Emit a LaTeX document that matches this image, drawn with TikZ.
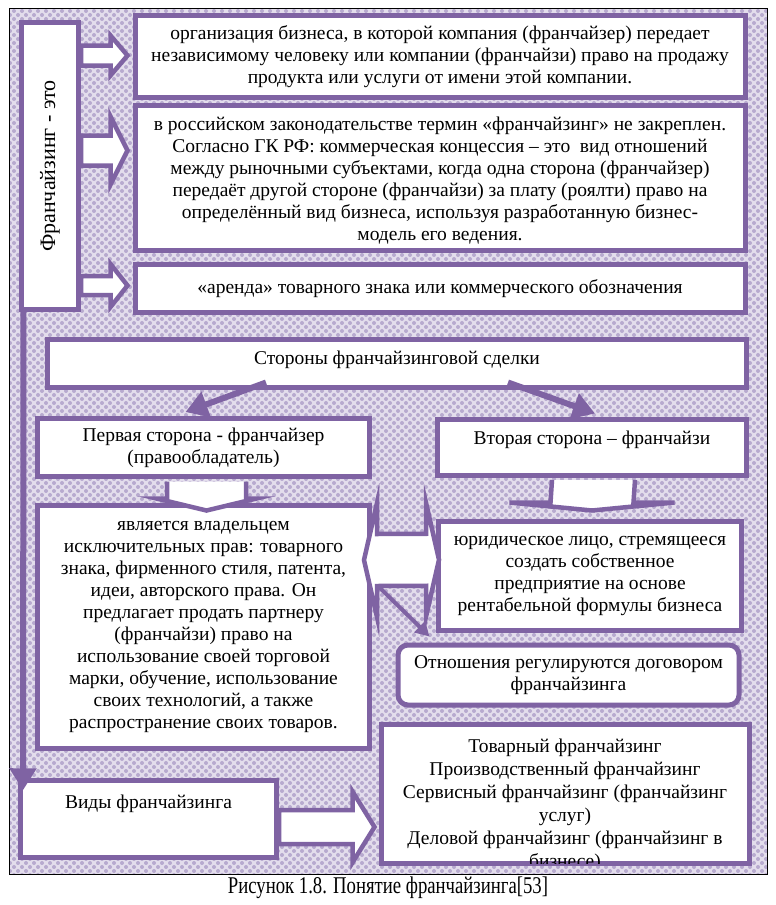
\documentclass[tikz,border=0pt]{standalone}
\usepackage{fontspec}
\setmainfont{Liberation Serif}
\usetikzlibrary{arrows.meta,calc,patterns,positioning}

\definecolor{vio}{HTML}{7F63A3}
\definecolor{lavbg}{HTML}{E3DDEC}
\definecolor{lavdot}{HTML}{B7AACF}

% dotted backdrop of the whole figure
\pgfdeclarepatternformonly{bubbles}{\pgfpoint{-1pt}{-1pt}}{\pgfpoint{9pt}{9pt}}{\pgfpoint{8pt}{8pt}}{%
  \pgfpathcircle{\pgfpoint{2pt}{2pt}}{2pt}%
  \pgfpathcircle{\pgfpoint{6pt}{6pt}}{2pt}%
  \pgfusepath{fill}}

\newcommand\bodyfont{\fontsize{19.5}{22}\selectfont}

% block arrow to the right: tail, tip, shaft half, head half, head length
\newcommand\rblock[5]{%
  \draw[blockarr] ($(#1)+(0,-#3)$) -- ($(#2)+(-#5,-#3)$) -- ($(#2)+(-#5,-#4)$) -- (#2)
    -- ($(#2)+(-#5,#4)$) -- ($(#2)+(-#5,#3)$) -- ($(#1)+(0,#3)$) -- cycle;}
% block arrow downwards: tail, tip, shaft half, head half, head length
\newcommand\dblock[5]{%
  \draw[blockarr] ($(#1)+(-#3,0)$) -- ($(#2)+(-#3,-#5)$) -- ($(#2)+(-#4,-#5)$) -- (#2)
    -- ($(#2)+(#4,-#5)$) -- ($(#2)+(#3,-#5)$) -- ($(#1)+(#3,0)$);}

\begin{document}
\begin{tikzpicture}[
    x=1pt, y=-1pt,
    box/.style={draw=vio, line width=5pt, fill=white, align=center, font=\bodyfont, inner sep=0pt},
    rbox/.style={box, rounded corners=10pt},
    blockarr/.style={draw=vio, line width=4.5pt, fill=white, line join=miter},
    linearr/.style={draw=vio, line width=6pt, -{Triangle[length=22pt,width=26pt]}},
    thinarr/.style={draw=vio, line width=4pt, -{Triangle[length=14pt,width=15pt]}}
]
    \useasboundingbox (0,0) rectangle (776,905);
    \fill[lavbg] (9,8) rectangle (767,874);
    \fill[pattern=bubbles, pattern color=lavdot] (9,8) rectangle (767,874);
    \draw[line width=1pt] (9,8) rectangle (767,874);

    \node[box, minimum width=57, minimum height=287] (lbl) at (50,166)
        {\rotatebox{90}{\fontsize{22}{24}\selectfont Франчайзинг - это}};
    \node[box, minimum width=610, minimum height=82] (def1) at (440,56.5)
        {организация бизнеса, в которой компания (франчайзер) передает\\
         независимому человеку или компании (франчайзи) право на продажу\\
         продукта или услуги от имени этой компании.};
    \node[box, minimum width=610, minimum height=144.5] (def2) at (440,177.75)
        {\rule{0pt}{19pt}в российском законодательстве термин «франчайзинг» не закреплен.\\
         Согласно ГК РФ: коммерческая концессия – это\ \ вид отношений\\
         между рыночными субъектами, когда одна сторона (франчайзер)\\
         передаёт другой стороне (франчайзи) за плату (роялти) право на\\
         определённый вид бизнеса, используя разработанную бизнес-\\
         модель его ведения.};
    \node[box, minimum width=610, minimum height=48] (def3) at (440,288.5)
        {«аренда» товарного знака или коммерческого обозначения};

    % arrows of the definition
    \rblock{lbl.east |- 0,55.5}{$(def1.west |- 0,55.5)+(-5,0)$}{10}{20}{17}
    \rblock{lbl.east |- 0,150.5}{$(def2.west |- 0,150.5)+(-5,0)$}{15}{34}{17}
    \rblock{lbl.east |- 0,285.5}{$(def3.west |- 0,285.5)+(-5,0)$}{9.5}{21.5}{17}

    \node[box, minimum width=699, minimum height=48] (sides) at (397,363.5)
        {Стороны франчайзинговой сделки\\[-11pt]\mbox{}};
    \node[box, minimum width=332, minimum height=58] (first) at (203.5,447.5)
        {Первая сторона - франчайзер\\(правообладатель)};
    \node[box, minimum width=309, minimum height=56] (second) at (592,447)
        {Вторая сторона – франчайзи\\[-4pt]\mbox{}};
    \node[box, minimum width=332, minimum height=243] (owner) at (203.5,627)
        {является владельцем\\
         исключительных прав: товарного\\
         знака, фирменного стиля, патента,\\
         идеи, авторского права. Он\\
         предлагает продать партнеру\\
         (франчайзи) право на\\
         использование своей торговой\\
         марки, обучение, использование\\
         своих технологий, а также\\
         распространение своих товаров.};
    \node[box, minimum width=303, minimum height=108.5] (legal) at (590,575.75)
        {юридическое лицо, стремящееся\\
         создать собственное\\
         предприятие на основе\\
         рентабельной формулы бизнеса};
    \node[rbox, minimum width=341, minimum height=60] (rel) at (568.5,675)
        {Отношения регулируются договором\\франчайзинга};
    \node[box, minimum width=256, minimum height=77.5] (views) at (148.5,819)
        {Виды франчайзинга\\[12pt]\mbox{}};
    \node[box, minimum width=368, minimum height=139] (kinds) at (565,793.5) {};
    \begin{scope}
        \clip ($(kinds.north west)+(2.5,2.5)$) rectangle ($(kinds.south east)+(-2.5,-2.5)$);
        \node[font=\fontsize{19.5}{23}\selectfont, align=center, anchor=north, inner sep=0pt] (kindlist)
            at ($(kinds.north)+(0,17)$)
            {Товарный франчайзинг\\
             Производственный франчайзинг\\
             Сервисный франчайзинг (франчайзинг\\
             услуг)\\
             Деловой франчайзинг (франчайзинг в\\
             бизнесе)};
    \end{scope}

    % arrows between the parties
    \draw[linearr] ($(sides.south)+(-131,-7.5)$) -- ($(first.north)+(-18,-4)$);
    \draw[linearr] ($(sides.south)+(111,-7.5)$) -- ($(second.north)+(3,-3)$);
    \dblock{$(first.south)+(3,2.5)$}{$(owner.north)+(3,7.5)$}{39.5}{50}{12}
    \dblock{$(second.south)+(1.5,2.5)$}{$(legal.north)+(2,-8.5)$}{41.5}{82.5}{8}

    \coordinate (dtipL) at ($(owner.east)+(-8,-67)$);
    \coordinate (dtipR) at ($(legal.west)+(3,-16)$);
    \draw[blockarr] (dtipL) -- ($(dtipL)+(13,-57)$) -- ($(dtipL)+(13,-26)$) -- ($(dtipR)+(-13,-26)$)
        -- ($(dtipR)+(-13,-57)$) -- (dtipR) -- ($(dtipR)+(-13,57)$) -- ($(dtipR)+(-13,26)$)
        -- ($(dtipL)+(13,26)$) -- ($(dtipL)+(13,57)$) -- cycle;
    \draw[thinarr] ($(dtipL)+(15,27)$) -- ($(rel.north west)+(34,-6)$);

    \draw[linearr] ($(lbl.south west)+(4.5,0)$) -- ($(views.north west)+(5,12.5)$);
    \rblock{views.east |- 0,827}{$(kinds.west |- 0,827)+(-4,0)$}{17}{35.5}{22}

    \node[font=\fontsize{24}{26}\selectfont] (caption) at (388,888)
        {\scalebox{0.78}[1]{Рисунок 1.8. Понятие франчайзинга[53]}};
\end{tikzpicture}
\end{document}
